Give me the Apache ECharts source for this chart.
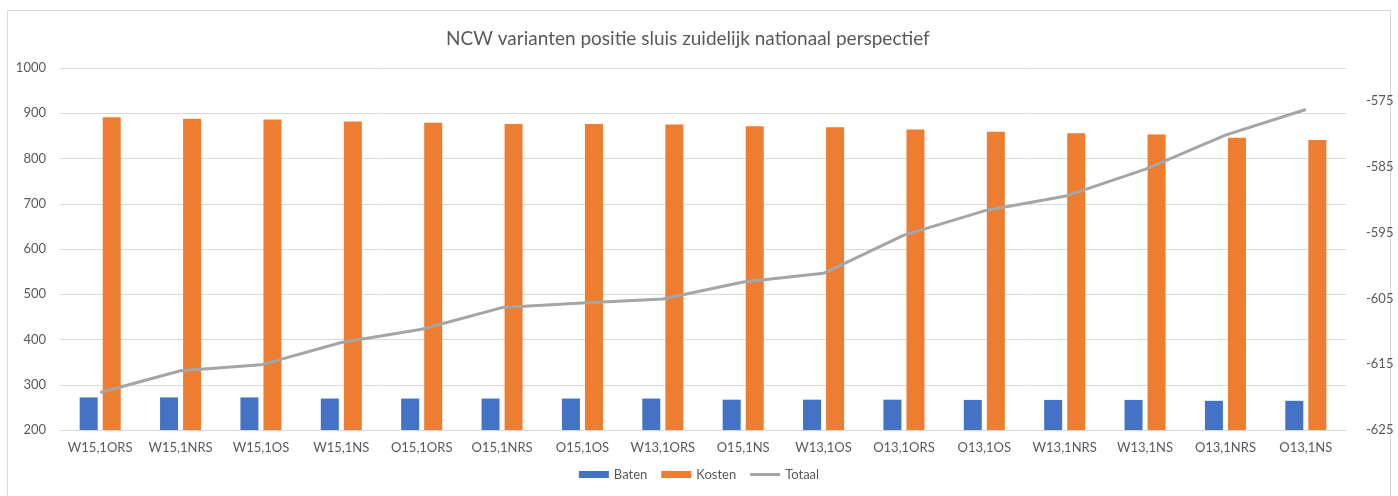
<!DOCTYPE html>
<html>
<head>
<meta charset="utf-8">
<title>NCW varianten</title>
<script src="https://cdn.jsdelivr.net/npm/echarts@6/dist/echarts.min.js"></script>
<style>
  html, body { margin: 0; padding: 0; background: #fff; }
  #frame {
    position: absolute; left: 7px; top: 10px;
    width: 1382px; height: 500px;
    border: 1px solid #d9d9d9;
  }
  #chart { position: absolute; left: 0; top: 0; width: 1398px; height: 496px; }
</style>
</head>
<body>
<div id="frame"></div>
<div id="chart"></div>
<script>
// categorieën (varianten)
const categories = [
  'W15,1ORS', 'W15,1NRS', 'W15,1OS', 'W15,1NS', 'O15,1ORS', 'O15,1NRS',
  'O15,1OS', 'W13,1ORS', 'O15,1NS', 'W13,1OS', 'O13,1ORS', 'O13,1OS',
  'W13,1NRS', 'W13,1NS', 'O13,1NRS', 'O13,1NS'
];

// waarden
const baten = [272, 272, 272, 269.5, 269.5, 269.5, 269.5, 269.5, 267, 267, 267, 266.5, 266.5, 266.5, 264.5, 264.5];
const kosten = [891, 888, 886, 882, 879, 876, 876, 875, 871, 869, 864, 859, 856, 853, 846, 841];
const totaal = [-619.3, -616.0, -615.1, -611.7, -609.7, -606.4, -605.7, -605.1, -602.5, -601.2, -595.4, -591.7, -589.5, -585.4, -580.2, -576.3];

const font = 'Lato, "Open Sans", sans-serif';
const textColor = '#595959';

const chart = echarts.init(document.getElementById('chart'));
chart.setOption({
  animation: false,
  title: {
    text: 'NCW varianten positie sluis zuidelijk nationaal perspectief',
    left: 441,
    top: 24,
    textStyle: { fontFamily: font, fontSize: 19, fontWeight: 'normal', color: textColor }
  },
  legend: {
    bottom: 10,
    left: 'center',
    itemWidth: 30,
    itemHeight: 7,
    itemGap: 14,
    textStyle: { fontFamily: font, fontSize: 13, color: textColor },
    data: [
      { name: 'Baten', icon: 'rect' },
      { name: 'Kosten', icon: 'rect' },
      { name: 'Totaal', icon: 'path://M0,0 H30 V3 H0 Z', itemStyle: { color: '#a5a5a5' } }
    ]
  },
  grid: { left: 60, right: 52, top: 68, bottom: 66 },
  xAxis: {
    type: 'category',
    data: categories,
    axisLine: { show: true, lineStyle: { color: '#d9d9d9', width: 1 } },
    axisTick: { show: false },
    axisLabel: { fontFamily: font, fontSize: 13, color: textColor, margin: 11, interval: 0 }
  },
  yAxis: [
    {
      type: 'value',
      min: 200,
      max: 1000,
      interval: 100,
      axisLine: { show: false },
      axisTick: { show: false },
      axisLabel: { fontFamily: font, fontSize: 13, color: textColor, margin: 14, formatter: v => String(v) },
      splitLine: { lineStyle: { color: '#d9d9d9', width: 1 } }
    },
    {
      type: 'value',
      min: -625,
      max: -570,
      interval: 10,
      axisLine: { show: false },
      axisTick: { show: false },
      axisLabel: { fontFamily: font, fontSize: 13, color: textColor, margin: 20, showMaxLabel: false, formatter: v => String(v) },
      splitLine: { show: false }
    }
  ],
  series: [
    {
      name: 'Baten',
      type: 'bar',
      data: baten,
      barWidth: 18,
      barGap: '28%',
      itemStyle: { color: '#4472c4' }
    },
    {
      name: 'Kosten',
      type: 'bar',
      data: kosten,
      barWidth: 18,
      barGap: '28%',
      itemStyle: { color: '#ed7d31' }
    },
    {
      name: 'Totaal',
      type: 'line',
      yAxisIndex: 1,
      data: totaal,
      symbol: 'none',
      lineStyle: { color: '#a5a5a5', width: 3 },
      itemStyle: { color: '#a5a5a5' }
    }
  ]
});
</script>
</body>
</html>
